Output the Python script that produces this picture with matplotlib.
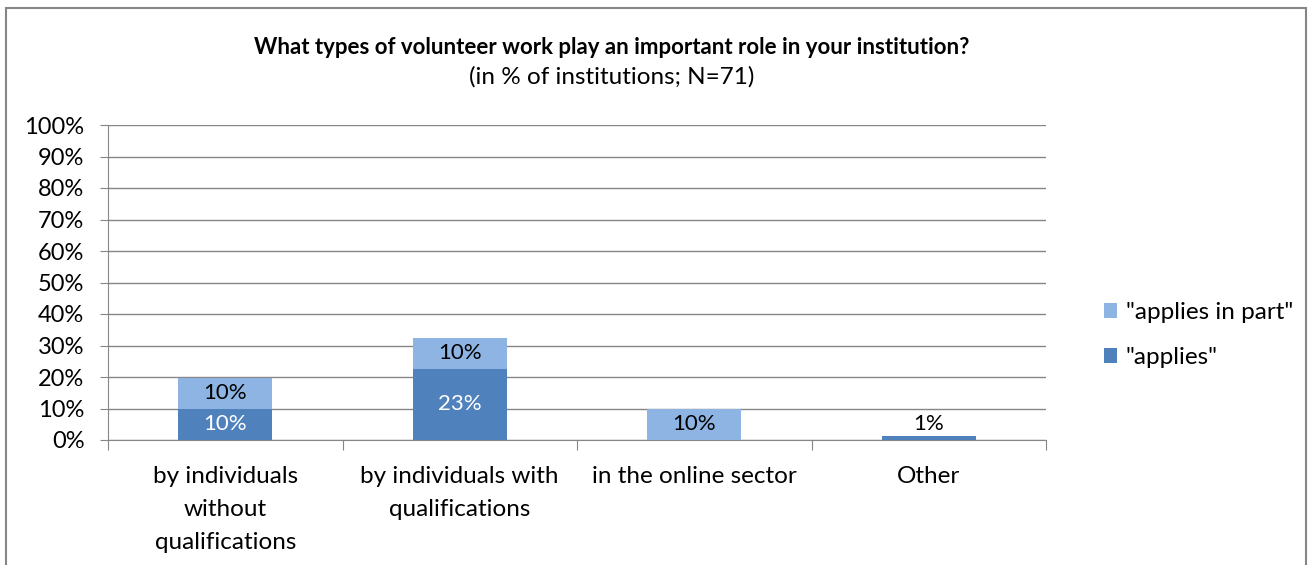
import numpy as np
import matplotlib
matplotlib.use("Agg")
import matplotlib.pyplot as plt
from matplotlib.patches import Rectangle

plt.rcParams['font.family'] = ['Lato', 'DejaVu Sans']

# Werte in % der Einrichtungen (N=71)
categories = ['by individuals\nwithout\nqualifications', 'by individuals with\nqualifications',
              'in the online sector', 'Other']
applies = [9.86, 22.54, 0.0, 1.41]
applies_in_part = [9.86, 9.86, 9.86, 0.0]
series_names = ['"applies"', '"applies in part"']
yticks = np.arange(0, 101, 10)

c_dark = '#4F81BD'
c_light = '#8DB4E2'
c_grid = '#868686'

fig = plt.figure(figsize=(13.12, 5.65), dpi=100)
ax = fig.add_axes([108 / 1312, 1 - 440 / 565, (1046 - 108) / 1312, (440 - 125) / 565])

x = np.arange(len(categories))
ax.bar(x, applies, width=0.4, color=c_dark, label=series_names[0], zorder=3)
ax.bar(x, applies_in_part, width=0.4, bottom=applies, color=c_light,
       label=series_names[1], zorder=3)

# Beschriftungen in den Segmenten
for i in range(len(categories)):
    if applies[i] >= 5:
        ax.text(x[i], applies[i] / 2, f'{applies[i]:.0f}%', ha='center', va='center',
                color='white', fontsize=16, zorder=4)
    elif applies[i] > 0:
        ax.text(x[i], applies[i] + 0.6, f'{applies[i]:.0f}%', ha='center', va='bottom',
                color='black', fontsize=16, zorder=4)
    if applies_in_part[i] > 0:
        ax.text(x[i], applies[i] + applies_in_part[i] / 2, f'{applies_in_part[i]:.0f}%',
                ha='center', va='center', color='black', fontsize=16, zorder=4)

ax.set_xlim(-0.5, len(categories) - 0.5)
ax.set_ylim(0, 100)
ax.set_yticks(yticks)
ax.set_yticklabels([f'{v}%' for v in yticks], fontsize=17)
ax.yaxis.grid(True, color=c_grid, linewidth=1, zorder=0)
ax.tick_params(axis='y', length=6, color=c_grid, pad=11)

# Kategorie-Trennstriche unter der Achse
ax.set_xticks(np.arange(len(categories) + 1) - 0.5)
ax.set_xticklabels([])
ax.tick_params(axis='x', length=7.5, color=c_grid)
for i, lab in enumerate(categories):
    ax.text(x[i], -8.2, lab, ha='center', va='top', fontsize=17.5, linespacing=1.72)

for s in ['top', 'right']:
    ax.spines[s].set_visible(False)
ax.spines['left'].set_color(c_grid)
ax.spines['bottom'].set_color(c_grid)

h, l = ax.get_legend_handles_labels()
fig.legend(h[::-1], l[::-1], loc='center left', bbox_to_anchor=(1082 / 1312, 1 - 335 / 565),
           frameon=False, fontsize=17.5, handlelength=0.55, handleheight=0.55,
           handletextpad=0.35, labelspacing=1.0)

fig.text(612 / 1312, 1 - 48 / 565, 'What types of volunteer work play an important role in your institution?',
         ha='center', va='center', fontsize=16, fontweight='bold')
fig.text(612 / 1312, 1 - 77 / 565, '(in % of institutions; N=71)', ha='center', va='center', fontsize=17.5)

# Rahmen um das Diagramm
fig.patches.append(Rectangle((6 / 1312, -0.1), (1306 - 6) / 1312, 1.1 - 8 / 565,
                             transform=fig.transFigure, fill=False, edgecolor=c_grid, linewidth=1.5))

fig.savefig('out.png', dpi=100)
